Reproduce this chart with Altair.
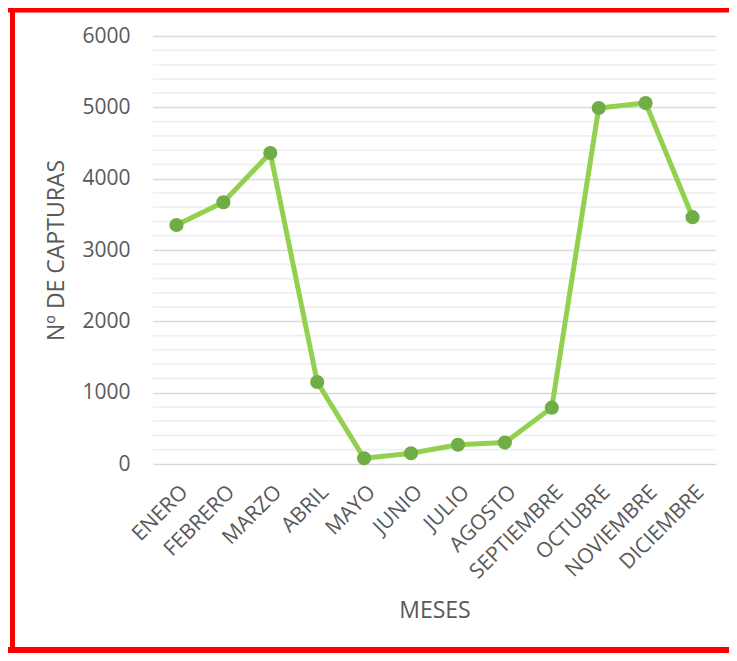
import altair as alt
import pandas as pd

months = ["ENERO", "FEBRERO", "MARZO", "ABRIL", "MAYO", "JUNIO", "JULIO",
          "AGOSTO", "SEPTIEMBRE", "OCTUBRE", "NOVIEMBRE", "DICIEMBRE"]
capturas = [3350, 3670, 4360, 1150, 80, 150, 270, 300, 790, 4990, 5060, 3460]
major_ticks = [0, 1000, 2000, 3000, 4000, 5000, 6000]
minor_grid = [v for v in range(200, 6000, 200) if v % 1000 != 0]

df = pd.DataFrame({"mes": months, "capturas": capturas})
grid_df = pd.DataFrame({"g": minor_grid})

TEXT = "#595959"
RED = "#ff0000"

x_enc = alt.X("mes:N", sort=months, title="MESES",
              axis=alt.Axis(labelAngle=-45, labelAlign="right", labelBaseline="top",
                            labelPadding=17, ticks=False, tickSize=0, domain=False,
                            grid=False, labelFontSize=21, labelColor=TEXT,
                            titleFontSize=23, titleColor=TEXT, titleFontWeight="normal",
                            titlePadding=17))
y_scale = alt.Scale(domain=[0, 6000], nice=False)
y_enc = alt.Y("capturas:Q", scale=y_scale, title="Nº DE CAPTURAS",
              axis=alt.Axis(values=major_ticks, format="d", ticks=False, tickSize=0,
                            domain=False, grid=True, gridColor="#d9d9d9", gridWidth=1.6,
                            labelFontSize=21, labelColor=TEXT, labelPadding=23,
                            titleFontSize=23, titleColor=TEXT, titleFontWeight="normal",
                            titlePadding=13))

minor = alt.Chart(grid_df).mark_rule(color="#f0f0f0", strokeWidth=1.8).encode(
    y=alt.Y("g:Q", scale=y_scale)
)

line = alt.Chart(df).mark_line(color="#92D050", strokeWidth=5).encode(x=x_enc, y=y_enc)
points = alt.Chart(df).mark_point(filled=True, size=200, color="#70AD47", opacity=1).encode(
    x=x_enc, y=y_enc
)

one = pd.DataFrame({"a": [0]})
top_border = alt.Chart(one).mark_rule(color=RED, strokeWidth=5).encode(
    x=alt.value(-145), x2=alt.value(576), y=alt.value(-26), y2=alt.value(-26)
)
bottom_border = alt.Chart(one).mark_rule(color=RED, strokeWidth=6).encode(
    x=alt.value(-145), x2=alt.value(576), y=alt.value(614), y2=alt.value(614)
)
left_border = alt.Chart(one).mark_rect(color=RED, opacity=1).encode(
    x=alt.value(-143), x2=alt.value(-138), y=alt.value(-28), y2=alt.value(617)
)

chart = alt.layer(minor, line, points, top_border, bottom_border, left_border).properties(
    width=563, height=428,
    autosize=alt.AutoSizeParams(type="none"),
    padding={"left": 145, "top": 28, "right": 13, "bottom": 189},
).configure(font="Open Sans").configure_view(strokeWidth=0)

chart.save("out.html", embed_options={"renderer": "svg", "actions": False})
